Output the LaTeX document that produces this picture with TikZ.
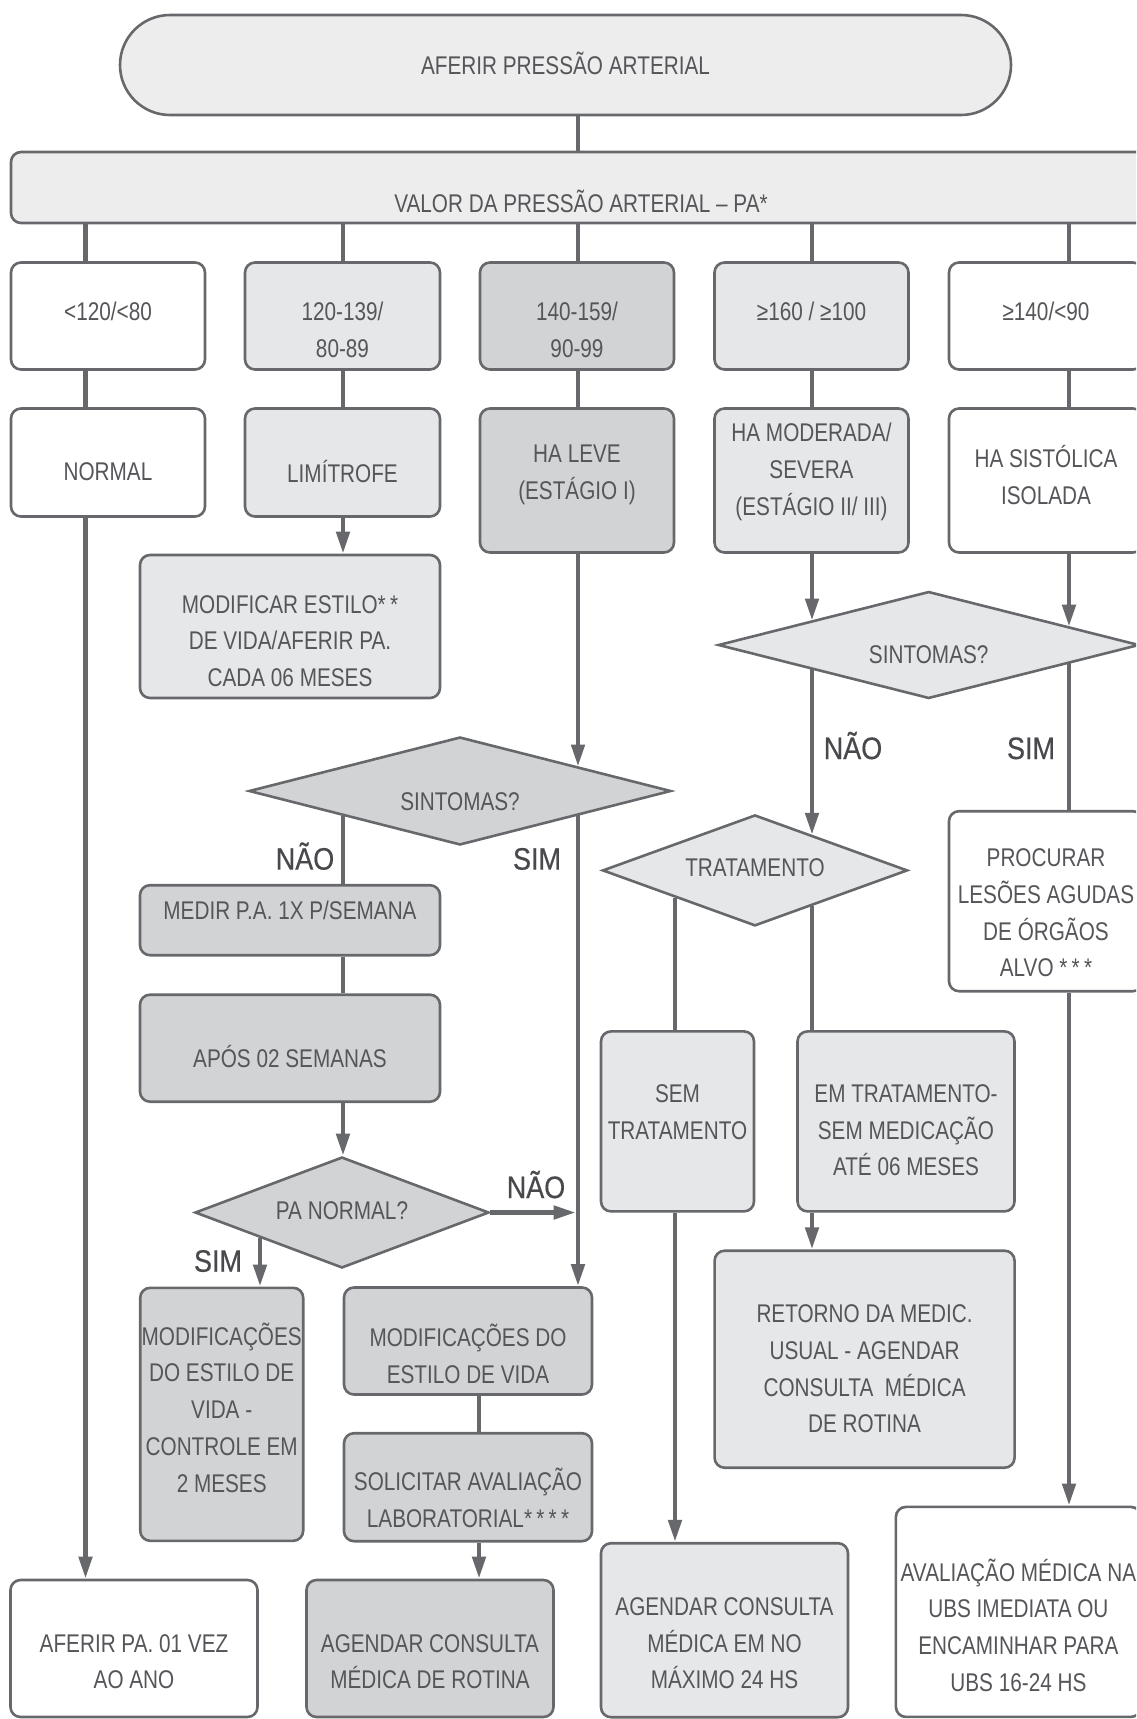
\documentclass[tikz,border=0pt]{standalone}
\usepackage{fontspec}
\setmainfont[FakeStretch=0.81]{Liberation Sans}
\newfontfamily\lblfont[FakeStretch=0.87,FakeBold=0.5]{Liberation Sans}
\usetikzlibrary{shapes.geometric,arrows.meta,calc}
\definecolor{ink}{HTML}{55565A}
\definecolor{wire}{HTML}{67686B}
\definecolor{pale}{HTML}{EDEDED}
\definecolor{lite}{HTML}{E6E7E8}
\definecolor{mid}{HTML}{D1D3D4}
\begin{document}
\begin{tikzpicture}[x=1pt,y=-1pt,
  box/.style={draw=wire,line width=2.6pt,rounded corners=10pt,inner sep=0pt},
  col/.style={box,minimum width=194pt},
  dia/.style={diamond,draw=wire,line width=2.6pt,inner sep=0pt},
  txt/.style={text=ink,align=center,inner sep=0pt,font=\fontsize{25.6}{36.7}\selectfont},
  lbl/.style={text=ink!85!black,inner sep=0pt,anchor=base,font=\lblfont\fontsize{31}{36}\selectfont},
  link/.style={draw=wire,line width=4.6pt},
  flow/.style={link,-{Triangle[length=22pt,width=13pt]}}]
\useasboundingbox (0,0) rectangle (1136,1719);
\clip (0,0) rectangle (1136,1719);
% columns
\coordinate (c1) at (85.5,0);
\coordinate (c2) at (343,0);
\coordinate (c3) at (578,0);
\coordinate (c4) at (812,0);
\coordinate (c5) at (1069,0);
\coordinate (c6) at (675,0);
\coordinate (c7) at (260,0);
\coordinate (c8) at (479,0);
% top
\node[box,fill=pale,rounded corners=50pt,minimum width=891pt,minimum height=100pt] (aferir) at (565.5,65) {};
\node[txt] (tAferir) at (565.5,63) {AFERIR PRESSÃO ARTERIAL};
\node[box,fill=pale,minimum width=1140pt,minimum height=71pt] (valor) at (581,187.5) {};
\node[txt] (tValor) at (581,201.7) {VALOR DA PRESSÃO ARTERIAL – PA*};
% row 1
\node[col,fill=white,minimum height=107pt] (p1) at (108,316) {};
\node[col,fill=lite,minimum width=195pt,minimum height=107pt] (p2) at (342.5,316) {};
\node[col,fill=mid,minimum height=107pt] (p3) at (577,316) {};
\node[col,fill=lite,minimum height=107pt] (p4) at (811.5,316) {};
\node[col,fill=white,minimum height=107pt] (p5) at (1046,316) {};
\node[txt] (tP1) at (108,311.7) {<120/<80};
\node[txt] (tP2) at (342.5,330) {120-139/\\80-89};
\node[txt] (tP3) at (577,330) {140-159/\\90-99};
\node[txt] (tP4) at (811.5,311.7) {≥160 / ≥100};
\node[txt] (tP5) at (1046,311.7) {≥140/<90};
% row 2
\node[col,fill=white,minimum height=108pt] (normal) at (108,462.5) {};
\node[col,fill=lite,minimum width=195pt,minimum height=108pt] (limit) at (342.5,462.5) {};
\node[col,fill=mid,minimum height=144pt] (leve) at (577,480.5) {};
\node[col,fill=lite,minimum height=144pt] (moder) at (811.5,480.5) {};
\node[col,fill=white,minimum height=144pt] (sistol) at (1046,480.5) {};
\node[txt] (tNormal) at (108,471.7) {NORMAL};
\node[txt] (tLimit) at (342.5,471.7) {LIMÍTROFE};
\node[txt] (tLeve) at (577,475) {HA LEVE\\(ESTÁGIO I)};
\node[txt] (tModer) at (811.5,471.7) {HA MODERADA/\\SEVERA\\(ESTÁGIO II/ III)};
\node[txt] (tSistol) at (1046,475) {HA SISTÓLICA\\ISOLADA};
% middle
\node[box,fill=lite,minimum width=300pt,minimum height=143pt] (estilo) at (290,626.5) {};
\node[txt] (tEstilo) at (290,641) {MODIFICAR ESTILO*\,*\\DE VIDA/AFERIR PA.\\CADA 06 MESES};
\node[dia,fill=lite,minimum width=421pt,minimum height=107pt] (sintB) at (928.7,645) {};
\node[txt] (tSintB) at (928.7,655) {SINTOMAS?};
\node[dia,fill=mid,minimum width=422pt,minimum height=108pt] (sintA) at (460,791) {};
\node[txt] (tSintA) at (460,801.8) {SINTOMAS?};
\node[dia,fill=lite,minimum width=305pt,minimum height=111pt] (trat) at (755,870.4) {};
\node[txt] (tTrat) at (755,867.9) {TRATAMENTO};
\node[col,fill=white,minimum height=180pt] (lesoes) at (1046,901.2) {};
\node[txt] (tLesoes) at (1046,913) {PROCURAR\\LESÕES AGUDAS\\DE ÓRGÃOS\\ALVO *\,*\,*};
\node[box,fill=mid,minimum width=300pt,minimum height=70pt] (medir) at (290,920.2) {};
\node[txt] (tMedir) at (290,910.7) {MEDIR P.A. 1X P/SEMANA};
\node[box,fill=mid,minimum width=300pt,minimum height=107pt] (apos) at (290,1048.2) {};
\node[txt] (tApos) at (290,1057) {APÓS 02 SEMANAS};
\node[dia,fill=mid,minimum width=294pt,minimum height=111pt] (panorm) at (342,1212.5) {};
\node[txt] (tPanorm) at (342,1210.7) {PA NORMAL?};
\node[box,fill=lite,minimum width=153pt,minimum height=180pt] (semtrat) at (677.5,1121.4) {};
\node[txt] (tSemtrat) at (677.5,1112.5) {SEM\\TRATAMENTO};
\node[box,fill=lite,minimum width=217pt,minimum height=180pt] (emtrat) at (906,1121.4) {};
\node[txt] (tEmtrat) at (906,1130.4) {EM TRATAMENTO-\\SEM MEDICAÇÃO\\ATÉ 06 MESES};
\node[box,fill=lite,minimum width=300pt,minimum height=217pt] (retorno) at (864.6,1359.2) {};
\node[txt] (tRetorno) at (864.6,1369) {RETORNO DA MEDIC.\\USUAL - AGENDAR\\CONSULTA~~MÉDICA\\DE ROTINA};
% bottom
\node[box,fill=mid,minimum width=163pt,minimum height=253pt] (modA) at (221.7,1414.3) {};
\node[txt] (tModA) at (221.7,1407.5) {MODIFICAÇÕES\\DO ESTILO DE\\VIDA -\\CONTROLE EM\\2 MESES};
\node[box,fill=mid,minimum width=248pt,minimum height=107pt] (modB) at (468,1341) {};
\node[txt] (tModB) at (468,1354) {MODIFICAÇÕES DO\\ESTILO DE VIDA};
\node[box,fill=mid,minimum width=248pt,minimum height=108pt] (lab) at (468,1487.2) {};
\node[txt] (tLab) at (468,1498) {SOLICITAR AVALIAÇÃO\\LABORATORIAL*\,*\,*\,*};
\node[box,fill=white,minimum width=247pt,minimum height=137pt] (anual) at (134,1648.5) {};
\node[txt] (tAnual) at (134,1661.7) {AFERIR PA. 01 VEZ\\AO ANO};
\node[box,fill=mid,minimum width=247pt,minimum height=137pt] (rotina) at (430,1648.5) {};
\node[txt] (tRotina) at (430,1661.7) {AGENDAR CONSULTA\\MÉDICA DE ROTINA};
\node[box,fill=lite,minimum width=247pt,minimum height=174pt] (urg) at (724.5,1630.2) {};
\node[txt] (tUrg) at (724.5,1643.3) {AGENDAR CONSULTA\\MÉDICA EM NO\\MÁXIMO 24 HS};
\node[box,fill=white,minimum width=245pt,minimum height=210pt] (ubs) at (1018.4,1611.9) {};
\node[txt] (tUbs) at (1018.4,1625) {AVALIAÇÃO MÉDICA NA\\UBS IMEDIATA OU\\ENCAMINHAR PARA\\UBS 16-24 HS};
% points on the diamond edges
\coordinate (eA1) at ($(sintA.north)!.559!(sintA.east)$);
\coordinate (eA2) at ($(sintA.west)!.445!(sintA.south)$);
\coordinate (eA3) at ($(sintA.south)!.559!(sintA.east)$);
\coordinate (eB1) at ($(sintB.west)!.446!(sintB.north)$);
\coordinate (eB2) at ($(sintB.north)!.666!(sintB.east)$);
\coordinate (eB3) at ($(sintB.west)!.446!(sintB.south)$);
\coordinate (eB4) at ($(sintB.south)!.666!(sintB.east)$);
\coordinate (eT1) at ($(trat.north)!.374!(trat.east)$);
\coordinate (eT2) at ($(trat.west)!.477!(trat.south)$);
\coordinate (eT3) at ($(trat.south)!.374!(trat.east)$);
\coordinate (eP1) at ($(panorm.west)!.442!(panorm.south)$);
% connectors
\draw[link] (aferir.south -| c3) -- (valor.north -| c3);
\draw[link] (valor.south -| c1) -- (p1.north -| c1);
\draw[link] (valor.south -| c2) -- (p2.north -| c2);
\draw[link] (valor.south -| c3) -- (p3.north -| c3);
\draw[link] (valor.south -| c4) -- (p4.north -| c4);
\draw[link] (valor.south -| c5) -- (p5.north -| c5);
\draw[link] (p1.south -| c1) -- (normal.north -| c1);
\draw[link] (p2.south -| c2) -- (limit.north -| c2);
\draw[link] (p3.south -| c3) -- (leve.north -| c3);
\draw[link] (p4.south -| c4) -- (moder.north -| c4);
\draw[link] (p5.south -| c5) -- (sistol.north -| c5);
\draw[flow] (normal.south -| c1) -- (anual.north -| c1);
\draw[flow] (limit.south -| c2) -- (estilo.north -| c2);
\draw[flow] (leve.south -| c3) -- (eA1 -| c3);
\draw[flow] (moder.south -| c4) -- (eB1 -| c4);
\draw[flow] (sistol.south -| c5) -- (eB2 -| c5);
\draw[flow] (eB3 -| c4) -- (eT1 -| c4);
\draw[link] (eB4 -| c5) -- (lesoes.north -| c5);
\draw[flow] (lesoes.south -| c5) -- (ubs.north -| c5);
\draw[link] (eA2 -| c2) -- (medir.north -| c2);
\draw[flow] (eA3 -| c3) -- (modB.north -| c3);
\draw[link] (medir.south -| c2) -- (apos.north -| c2);
\draw[flow] (apos.south -| c2) -- (panorm.north -| c2);
\draw[flow,shorten >=2.3pt] (panorm.east) -- (c3 |- panorm.east);
\draw[flow] (eP1 -| c7) -- (modA.north -| c7);
\draw[link] (modB.south -| c8) -- (lab.north -| c8);
\draw[flow] (lab.south -| c8) -- (rotina.north -| c8);
\draw[link] (eT2 -| c6) -- (semtrat.north -| c6);
\draw[link] (eT3 -| c4) -- (emtrat.north -| c4);
\draw[flow] (semtrat.south -| c6) -- (urg.north -| c6);
\draw[flow] (emtrat.south -| c4) -- (retorno.north -| c4);
% labels
\node[lbl] (naoA) at (305,869.6) {NÃO};
\node[lbl] (simA) at (537,869.6) {SIM};
\node[lbl] (naoB) at (853,759) {NÃO};
\node[lbl] (simB) at (1031,759) {SIM};
\node[lbl] (naoP) at (536,1198) {NÃO};
\node[lbl] (simP) at (218,1271.7) {SIM};
\end{tikzpicture}
\end{document}
